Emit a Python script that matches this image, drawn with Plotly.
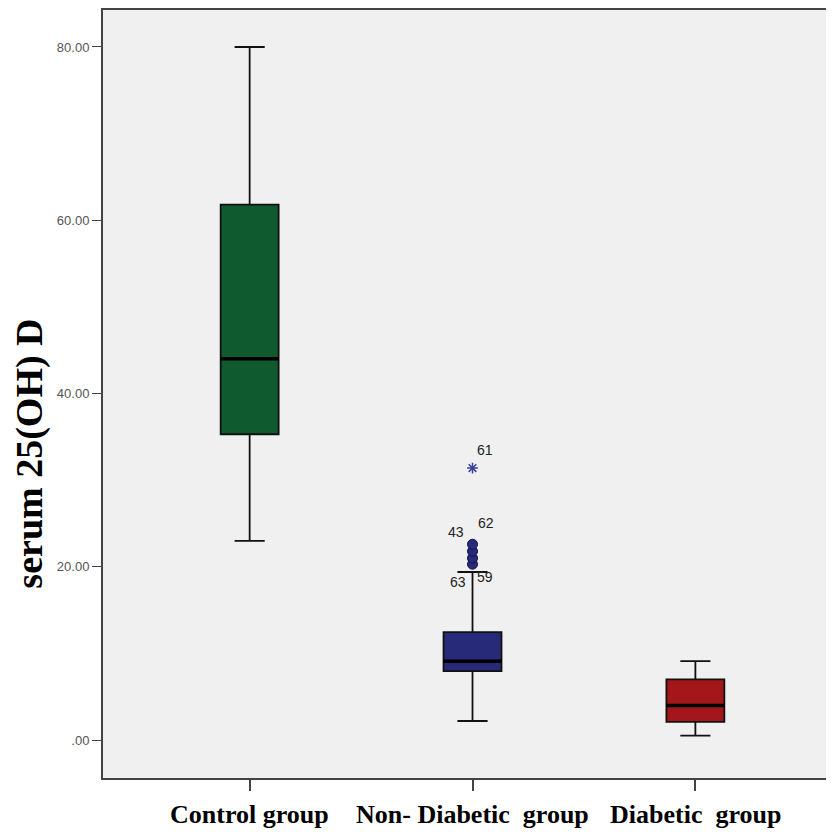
import plotly.graph_objects as go

groups = ["Control group", "Non- Diabetic  group", "Diabetic  group"]
lower_whisker = [23.0, 2.2, 0.5]
q1 = [35.3, 7.95, 2.1]
median = [44.0, 9.1, 4.0]
q3 = [61.8, 12.45, 7.0]
upper_whisker = [80.0, 19.4, 9.1]
colors = ["#0f5a2e", "#262a78", "#a3171b"]

# outliers of Non-Diabetic group
circle_vals = [20.3, 21.0, 21.8, 22.6]
star_vals = [31.4]
star_labels = ["61"]
circle_labels = ["43", "62", "63", "59"]
circle_label_vals = [24.0, 25.0, 18.2, 18.8]
circle_label_shift = [-17, 13, -15, 12]

ytick_vals = [0, 20, 40, 60, 80]
ytick_text = [".00", "20.00", "40.00", "60.00", "80.00"]

# page is offset by the 8px body margin
OFF = 8
W, H = 826, 824
ml, mr, mt, mb = 95, 0, 1, 54
pw = W - ml - mr
ph = H - mt - mb


def px(page_x):
    return (page_x - OFF - ml) / pw


def py(page_y):
    return (H - mb - (page_y - OFF)) / ph


fig = go.Figure()
bw = 0.26
for i, g in enumerate(groups):
    fig.add_trace(go.Box(
        x=[i], q1=[q1[i]], median=[median[i]], q3=[q3[i]],
        lowerfence=[lower_whisker[i]], upperfence=[upper_whisker[i]],
        width=bw, whiskerwidth=0.52, fillcolor=colors[i],
        line=dict(color="#111111", width=1.8), showlegend=False,
        hoverinfo="skip"))
    fig.add_trace(go.Scatter(
        x=[i - bw / 2, i + bw / 2], y=[median[i], median[i]], mode="lines",
        line=dict(color="#000000", width=3.5), showlegend=False, hoverinfo="skip"))

fig.add_trace(go.Scatter(
    x=[1] * len(circle_vals), y=circle_vals, mode="markers",
    marker=dict(symbol="circle", size=10, color="#262a78",
                line=dict(color="#10124a", width=1)),
    showlegend=False))
fig.add_trace(go.Scatter(
    x=[1] * len(star_vals), y=star_vals, mode="markers",
    marker=dict(symbol="asterisk", size=9, color="#3a3f9a",
                line=dict(color="#3a3f9a", width=1.5)),
    showlegend=False))

annotations = []
for lab, v in zip(star_labels, star_vals):
    annotations.append(dict(x=1, y=v, xref="x", yref="y", text=lab, showarrow=False,
                            xshift=12, yshift=18, font=dict(family="Arial", size=14, color="#222")))
for lab, v, s in zip(circle_labels, circle_label_vals, circle_label_shift):
    annotations.append(dict(x=1, y=v, xref="x", yref="y", text=lab, showarrow=False,
                            xshift=s, font=dict(family="Arial", size=14, color="#222")))
# y-axis title
annotations.append(dict(x=px(29), y=py(453), xref="paper", yref="paper", text="serum 25(OH) D",
                        showarrow=False, textangle=-90, xanchor="center", yanchor="middle",
                        font=dict(family="Liberation Serif", size=38, color="#000", weight="bold")))
# category labels
for i, g in enumerate(groups):
    annotations.append(dict(x=i, y=py(815), xref="x", yref="paper", text=g, showarrow=False,
                            xanchor="center", yanchor="middle",
                            font=dict(family="Liberation Serif", size=26, color="#000", weight="bold")))

fig.update_layout(
    width=W, height=H,
    margin=dict(l=ml, r=mr, t=mt, b=mb),
    paper_bgcolor="white", plot_bgcolor="#f0f0f0",
    annotations=annotations,
    xaxis=dict(range=[-0.658, 2.613], tickvals=[0, 1, 2], showticklabels=False,
               showgrid=False, zeroline=False, showline=True, mirror=True,
               linecolor="#444", linewidth=2, ticks="outside", ticklen=11,
               tickcolor="#444", tickwidth=1.5),
    yaxis=dict(range=[-4.38, 84.27], tickvals=ytick_vals, ticktext=ytick_text,
               showgrid=False, zeroline=False, showline=True, mirror=True,
               linecolor="#444", linewidth=2, ticks="outside", ticklen=9,
               tickcolor="#444", tickwidth=1.2,
               tickfont=dict(family="Liberation Sans Narrow, Arial Narrow, Arial", size=13, color="#555")),
)
fig.write_html("out.html")
